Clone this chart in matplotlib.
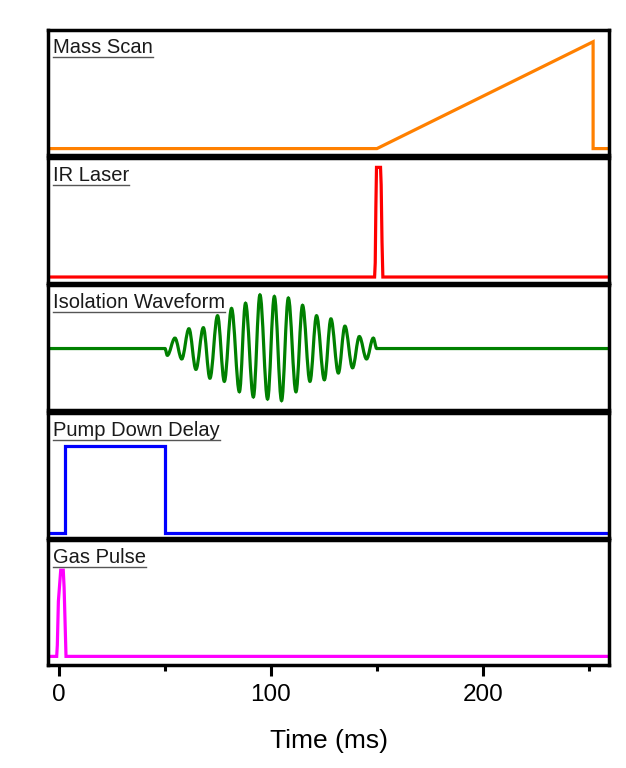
import matplotlib
matplotlib.use("Agg")
import matplotlib.pyplot as plt
from matplotlib.lines import Line2D
from matplotlib.path import Path
from matplotlib.patches import PathPatch

plt.rcParams['font.family'] = ['Liberation Sans', 'DejaVu Sans']

# Data (time in ms, arbitrary amplitude)
mass_t = [-6, 150, 252, 252, 262]
mass_y = [0, 0, 1, 0, 0]

ir_t = [-6, 148.9, 149.2, 149.5, 149.8, 151.7, 152.0, 152.4, 152.8, 262]
ir_y = [0, 0, 0.13, 0.64, 1, 1, 0.84, 0.32, 0, 0]

# isolation waveform: turning points (peaks / troughs) of the burst
wave_t = [50.0, 51.1, 54.7, 57.9, 61.3, 64.6, 68.1, 71.2, 74.8, 78.0,
          81.4, 85.1, 88.0, 91.7, 94.8, 98.4, 101.6, 105.0, 108.2, 111.8,
          114.9, 118.4, 121.5, 125.2, 128.3, 131.8, 134.9, 138.5, 141.7,
          145.1, 148.3, 149.9]
wave_y = [0, -0.13, 0.2, -0.2, 0.38, -0.4, 0.4, -0.57, 0.63, -0.63,
          0.77, -0.83, 0.87, -0.93, 1.03, -0.97, 1.0, -1.0, 0.97, -0.83,
          0.83, -0.63, 0.63, -0.6, 0.57, -0.47, 0.43, -0.37, 0.23,
          -0.2, 0.2, 0]

pump_t = [-6, 2.8, 2.8, 50, 50, 262]
pump_y = [0, 0, 1, 1, 0, 0]

gas_t = [-6, -1.1, -0.8, -0.3, 0.8, 2.0, 2.4, 3.3, 262]
gas_y = [0, 0, 0.13, 0.64, 1, 1, 0.8, 0, 0]


def smooth_path(t, y):
    # flat lead-in/out, smooth (bezier) swings between turning points
    verts = [(-6, 0), (t[0], y[0])]
    codes = [Path.MOVETO, Path.LINETO]
    for (x0, y0), (x1, y1) in zip(zip(t[:-1], y[:-1]), zip(t[1:], y[1:])):
        d = (x1 - x0) * 0.36
        verts += [(x0 + d, y0), (x1 - d, y1), (x1, y1)]
        codes += [Path.CURVE4] * 3
    verts.append((262, 0))
    codes.append(Path.LINETO)
    return Path(verts, codes)


panels = [
    ("Mass Scan", mass_t, mass_y, "#FF8000", (-0.06, 1.11)),
    ("IR Laser", ir_t, ir_y, "#FF0000", (-0.05, 1.09)),
    ("Isolation Waveform", wave_t, wave_y, "#008000", (-1.18, 1.22)),
    ("Pump Down Delay", pump_t, pump_y, "#0000FF", (-0.05, 1.38)),
    ("Gas Pulse", gas_t, gas_y, "#FF00FF", (-0.1, 1.35)),
]

W, H = 626, 768
fig = plt.figure(figsize=(W / 100, H / 100), dpi=100)

left, right = 48, 609
top = 30
ph, gap = 125, 2.5

axes = []
for i, (name, t, y, color, ylim) in enumerate(panels):
    y_top = top + i * (ph + gap)
    ax = fig.add_axes([left / W, 1 - (y_top + ph) / H, (right - left) / W, ph / H])
    if name == "Isolation Waveform":
        ax.add_patch(PathPatch(smooth_path(t, y), fill=False, edgecolor=color,
                               lw=2.3))
    else:
        ax.plot(t, y, color=color, lw=2.3, solid_joinstyle='miter')
    ax.set_xlim(-5.2, 259.5)
    ax.set_ylim(*ylim)
    ax.set_yticks([])
    for sp in ax.spines.values():
        sp.set_linewidth(2.5)
    ax.text(0.009, 1 - 23 / ph, name, transform=ax.transAxes,
            fontsize=14.5, color='#1a1a1a', ha='left', va='baseline')
    if i < len(panels) - 1:
        ax.set_xticks([])
    axes.append(ax)

bottom_ax = axes[-1]
bottom_ax.set_xticks([0, 100, 200])
bottom_ax.set_xticks([50, 150, 250], minor=True)
bottom_ax.tick_params(axis='x', which='major', direction='out', length=8,
                      width=2.2, labelsize=17.5, pad=6)
bottom_ax.tick_params(axis='x', which='minor', direction='out', length=4.5,
                      width=2.2)
bottom_ax.set_xlabel("Time (ms)", fontsize=19, labelpad=16)

# underline the panel titles
fig.canvas.draw()
renderer = fig.canvas.get_renderer()
for ax in axes:
    txt = ax.texts[0]
    bb = txt.get_window_extent(renderer)
    y_px = ax.transAxes.transform((0, 1 - 23 / ph))[1] - 4
    x0, y0 = fig.transFigure.inverted().transform((bb.x0, y_px))
    x1, _ = fig.transFigure.inverted().transform((bb.x1, y_px))
    fig.add_artist(Line2D([x0, x1], [y0, y0], color='#555555', lw=1.0,
                          transform=fig.transFigure))

fig.savefig("out.png", dpi=100)
